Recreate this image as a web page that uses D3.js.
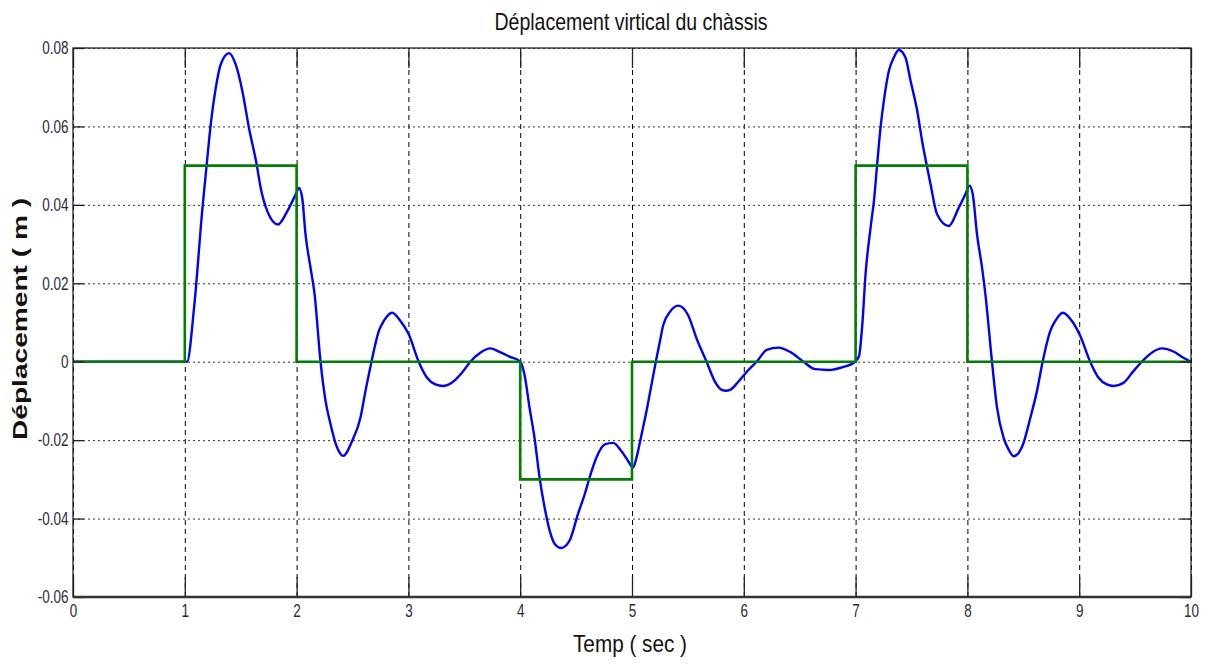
<!DOCTYPE html>
<html>
<head>
<meta charset="utf-8">
<script src="https://cdn.jsdelivr.net/npm/d3@7"></script>
<style>
  body { margin: 0; background: #fff; }
  .tick text { font-family: "Liberation Sans Narrow", "Arial Narrow", "Liberation Sans", sans-serif; font-size: 18px; fill: #2a2a3a; }
</style>
</head>
<body>
<script>
// blue curve: chassis displacement
const timeBlue = [
  0, 1.02, 1.083, 1.158, 1.196, 1.232, 1.277, 1.321, 1.396, 1.455,
  1.515, 1.574, 1.643, 1.679, 1.738, 1.833, 1.917, 1.991, 2.021, 2.05,
  2.08, 2.125, 2.161, 2.214, 2.259, 2.304, 2.357, 2.417, 2.497, 2.571,
  2.616, 2.67, 2.735, 2.78, 2.854, 2.929, 3.003, 3.092, 3.167, 3.241,
  3.31, 3.39, 3.479, 3.554, 3.643, 3.732, 3.815, 3.904, 4.0, 4.039,
  4.084, 4.128, 4.173, 4.218, 4.263, 4.308, 4.367, 4.442, 4.517, 4.577,
  4.621, 4.681, 4.756, 4.831, 4.905, 4.965, 5.01, 5.04, 5.085, 5.129,
  5.174, 5.213, 5.249, 5.279, 5.339, 5.413, 5.503, 5.578, 5.667, 5.742,
  5.802, 5.84, 5.876, 5.951, 6.041, 6.115, 6.205, 6.31, 6.414, 6.534,
  6.638, 6.758, 6.892, 6.988, 7.03, 7.06, 7.089, 7.134, 7.164, 7.193,
  7.223, 7.253, 7.298, 7.342, 7.387, 7.446, 7.491, 7.551, 7.595, 7.634,
  7.67, 7.729, 7.833, 7.923, 7.982, 8.018, 8.048, 8.086, 8.131, 8.161,
  8.22, 8.265, 8.324, 8.369, 8.414, 8.497, 8.563, 8.622, 8.673, 8.741,
  8.786, 8.854, 8.935, 9.009, 9.098, 9.173, 9.247, 9.307, 9.396, 9.485,
  9.56, 9.649, 9.738, 9.842, 9.932, 10
];
const dispBlue = [
  0, 0, 0.0138, 0.0392, 0.0503, 0.0605, 0.0698, 0.0758, 0.0787, 0.0758,
  0.069, 0.0596, 0.0503, 0.0443, 0.0384, 0.035, 0.0384, 0.0426, 0.0443, 0.0418,
  0.0324, 0.0239, 0.0172, 0, -0.01, -0.016, -0.0215, -0.024, -0.0202, -0.0143,
  -0.0075, 0, 0.0078, 0.0104, 0.0125, 0.0104, 0.007, 0, -0.0041, -0.0058,
  -0.0062, -0.0053, -0.0028, 0, 0.0023, 0.0034, 0.0025, 0.0013, 0, -0.0034,
  -0.0118, -0.0194, -0.0295, -0.0371, -0.043, -0.0464, -0.0475, -0.0456, -0.0388, -0.0338,
  -0.0295, -0.0245, -0.0211, -0.0207, -0.0228, -0.0253, -0.027, -0.0245, -0.0186, -0.0127,
  -0.0059, 0, 0.0051, 0.0093, 0.0127, 0.0143, 0.0118, 0.0059, 0, -0.0051,
  -0.0072, -0.0074, -0.0072, -0.0051, -0.0021, 0, 0.003, 0.0036, 0.0025, 0,
  -0.0019, -0.0021, -0.0013, -0.0002, 0.0014, 0.0095, 0.0223, 0.0342, 0.041, 0.0504,
  0.0597, 0.0666, 0.0742, 0.0776, 0.0795, 0.0776, 0.0717, 0.064, 0.0563, 0.0504,
  0.0453, 0.0376, 0.0346, 0.0393, 0.0427, 0.0449, 0.0427, 0.0325, 0.024, 0.0172,
  0, -0.0117, -0.0194, -0.0224, -0.0241, -0.0211, -0.0143, -0.0075, 0, 0.0078,
  0.0104, 0.0125, 0.0104, 0.0066, 0, -0.0041, -0.0058, -0.0062, -0.0054, -0.0024,
  0, 0.0023, 0.0034, 0.0026, 0.001, 0
];

// green curve: road profile (steps)
const stepTimes = [0, 1, 1, 2, 2, 4, 4, 5, 5, 7, 7, 8, 8, 10];
const stepValues = [0, 0, 0.05, 0.05, 0, 0, -0.03, -0.03, 0, 0, 0.05, 0.05, 0, 0];

const xTicks = [0, 1, 2, 3, 4, 5, 6, 7, 8, 9, 10];
const xTickLabels = ["0", "1", "2", "3", "4", "5", "6", "7", "8", "9", "10"];
const yTicks = [-0.06, -0.04, -0.02, 0, 0.02, 0.04, 0.06, 0.08];
const yTickLabels = ["-0.06", "-0.04", "-0.02", "0", "0.02", "0.04", "0.06", "0.08"];

const titleText = "Déplacement virtical du chàssis";
const xLabel = "Temp ( sec )";
const yLabel = "Déplacement ( m )";

init();

function init() {
  let width = 1214,
      height = 668,
      margin = {l: 73, r: 23, t: 48, b: 71},
      w = width - margin.l - margin.r,
      h = height - margin.t - margin.b;

  let svg = d3.select("body")
              .append("svg")
              .attr("width", width)
              .attr("height", height);

  let x = d3.scaleLinear().domain([0, 10]).range([margin.l, margin.l + w]);
  let y = d3.scaleLinear().domain([-0.06, 0.08]).range([margin.t + h, margin.t]);

  // grid
  let gx = svg.append("g")
    .attr("transform", "translate(0," + (margin.t + h) + ")")
    .call(d3.axisBottom(x).tickValues(xTicks).tickSize(-h).tickFormat(""));
  gx.select(".domain").remove();
  gx.selectAll("line").attr("stroke", "#000").attr("stroke-dasharray", "5,4");

  let gy = svg.append("g")
    .attr("transform", "translate(" + margin.l + ",0)")
    .call(d3.axisLeft(y).tickValues(yTicks).tickSize(-w).tickFormat(""));
  gy.select(".domain").remove();
  gy.selectAll("line").attr("stroke", "#333").attr("stroke-dasharray", "2,3");

  // curves
  let blue = d3.zip(timeBlue, dispBlue);
  let line = d3.line()
    .x(d => x(d[0]))
    .y(d => y(d[1]))
    .curve(d3.curveMonotoneX);

  svg.append("path")
    .datum(blue)
    .attr("fill", "none")
    .attr("stroke", "#0000ff")
    .attr("stroke-width", 2.4)
    .attr("d", line);

  let green = d3.zip(stepTimes, stepValues);
  svg.append("path")
    .datum(green)
    .attr("fill", "none")
    .attr("stroke", "#008000")
    .attr("stroke-width", 2.6)
    .attr("d", d3.line().x(d => x(d[0])).y(d => y(d[1])));

  // inner tick marks on all sides
  let tb = svg.append("g").attr("transform", "translate(0," + (margin.t + h) + ")")
    .call(d3.axisBottom(x).tickValues(xTicks).tickSize(-20).tickFormat(""));
  let tt = svg.append("g").attr("transform", "translate(0," + margin.t + ")")
    .call(d3.axisTop(x).tickValues(xTicks).tickSize(-20).tickFormat(""));
  let tl = svg.append("g").attr("transform", "translate(" + margin.l + ",0)")
    .call(d3.axisLeft(y).tickValues(yTicks).tickSize(-11).tickFormat(""));
  let tr = svg.append("g").attr("transform", "translate(" + (margin.l + w) + ",0)")
    .call(d3.axisRight(y).tickValues(yTicks).tickSize(-11).tickFormat(""));
  [tb, tt, tl, tr].forEach(g => {
    g.select(".domain").remove();
    g.selectAll("line").attr("stroke", "#222").attr("stroke-width", 1.3);
  });

  // box
  svg.append("rect")
    .attr("x", margin.l).attr("y", margin.t)
    .attr("width", w).attr("height", h)
    .attr("fill", "none")
    .attr("stroke", "#222")
    .attr("stroke-width", 1.3);
  svg.append("line")
    .attr("x1", margin.l).attr("x2", margin.l + w)
    .attr("y1", margin.t + h).attr("y2", margin.t + h)
    .attr("stroke", "#333").attr("stroke-width", 2.5);

  // tick labels (narrow, tall digits like the original)
  let lx = svg.append("g").attr("transform", "translate(0," + (margin.t + h) + ")")
    .call(d3.axisBottom(x).tickValues(xTicks).tickSize(0).tickPadding(7)
      .tickFormat((d, i) => xTickLabels[i]));
  lx.select(".domain").remove();
  lx.selectAll("text").attr("transform", "scale(0.75,1)");

  let ly = svg.append("g").attr("transform", "translate(" + margin.l + ",0)")
    .call(d3.axisLeft(y).tickValues(yTicks).tickSize(0).tickPadding(6)
      .tickFormat((d, i) => yTickLabels[i]));
  ly.select(".domain").remove();
  ly.selectAll("text").attr("transform", "scale(0.75,1)");

  // titles
  svg.append("text")
    .attr("x", 631).attr("y", 30)
    .attr("text-anchor", "middle")
    .attr("textLength", 273).attr("lengthAdjust", "spacingAndGlyphs")
    .style("font-family", "'Liberation Sans', Arial, sans-serif")
    .style("font-size", "24px")
    .style("fill", "#111")
    .text(titleText);

  svg.append("text")
    .attr("x", 630).attr("y", 652)
    .attr("text-anchor", "middle")
    .attr("textLength", 114).attr("lengthAdjust", "spacingAndGlyphs")
    .style("font-family", "'Liberation Sans', Arial, sans-serif")
    .style("font-size", "24px")
    .style("fill", "#111")
    .text(xLabel);

  svg.append("text")
    .attr("transform", "translate(27,319) rotate(-90)")
    .attr("text-anchor", "middle")
    .attr("textLength", 242).attr("lengthAdjust", "spacingAndGlyphs")
    .style("font-family", "'Liberation Sans', Arial, sans-serif")
    .style("font-size", "20px")
    .style("font-weight", "bold")
    .style("fill", "#111")
    .text(yLabel);
}
</script>
</body>
</html>
